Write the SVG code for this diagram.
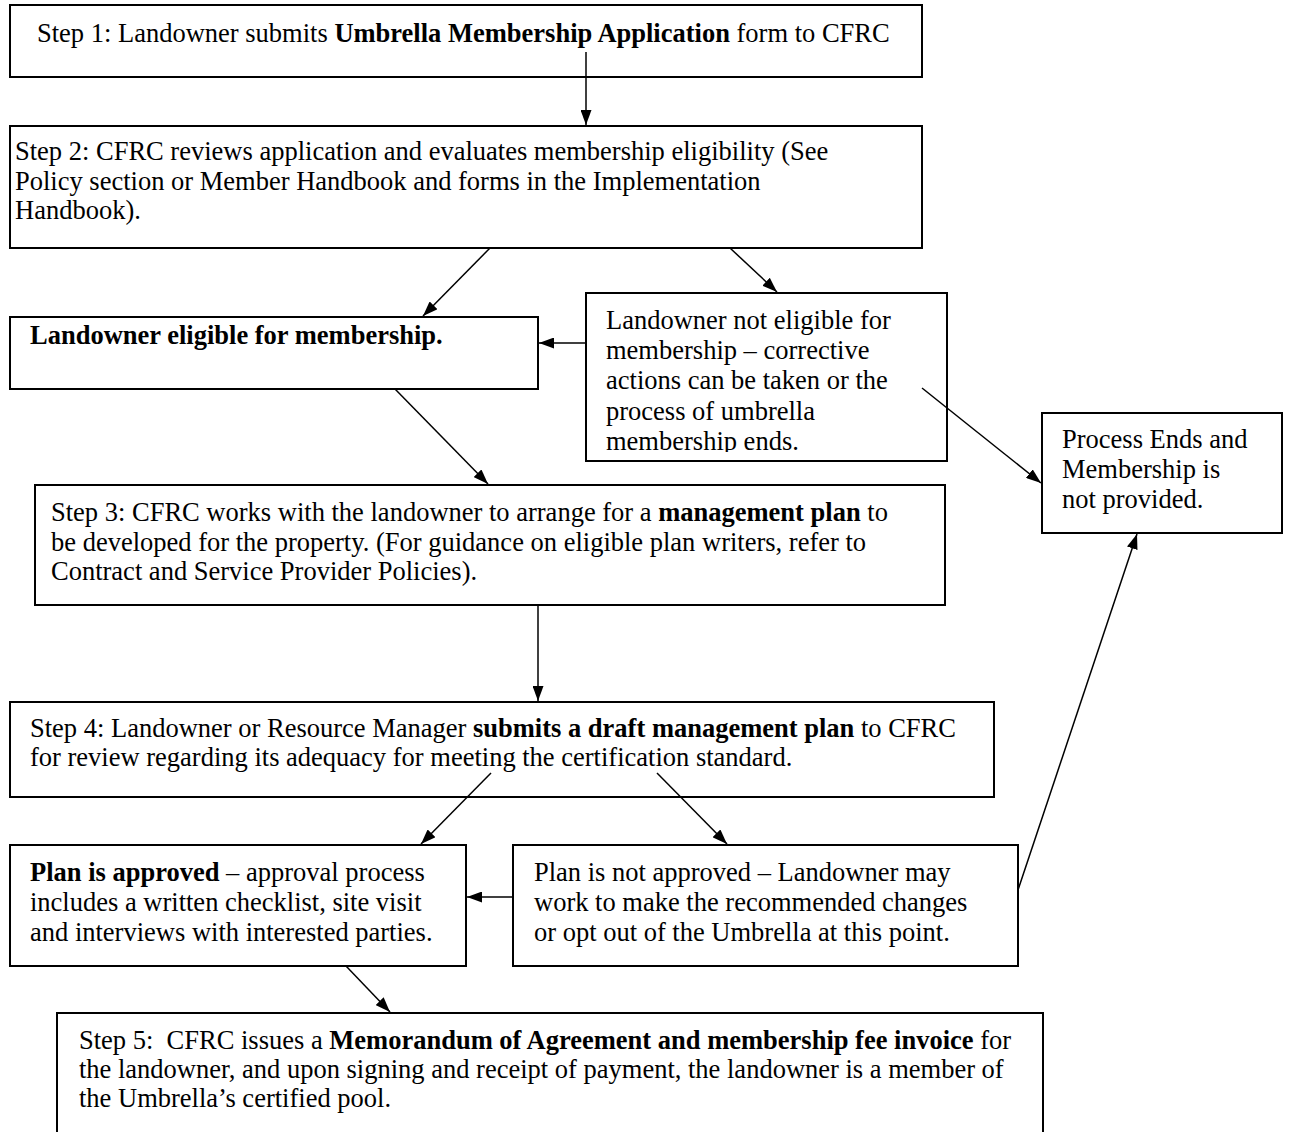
<svg xmlns="http://www.w3.org/2000/svg" width="1289" height="1132" viewBox="0 0 1289 1132">
<style>
  .box { fill: #ffffff; stroke: #000000; stroke-width: 2; }
  .t { font-family: "Liberation Serif", "Times New Roman", serif; font-size: 26.5px; fill: #000000; }
  .b { font-weight: bold; }
  .conn line { stroke: #000000; stroke-width: 1.5; marker-end: url(#ah); }
</style>
<defs>
  <marker id="ah" viewBox="0 0 15 11" refX="15" refY="5.5" markerWidth="15" markerHeight="11" markerUnits="userSpaceOnUse" orient="auto">
    <path d="M0,0 L15,5.5 L0,11 z" fill="#000000"/>
  </marker>
  <clipPath id="clipNE"><rect x="586" y="293" width="362" height="159"/></clipPath>
</defs>
<rect x="0" y="0" width="1289" height="1132" fill="#ffffff"/>

<g id="step1">
  <rect class="box" x="10" y="5" width="912" height="72"/>
  <text class="t" x="37" y="42">Step 1: Landowner submits <tspan class="b">Umbrella Membership Application</tspan> form to CFRC</text>
</g>

<g id="step2">
  <rect class="box" x="10" y="126" width="912" height="122"/>
  <text class="t">
    <tspan x="15" y="160">Step 2: CFRC reviews application and evaluates membership eligibility (See</tspan>
    <tspan x="15" y="190">Policy section or Member Handbook and forms in the Implementation</tspan>
    <tspan x="15" y="219">Handbook).</tspan>
  </text>
</g>

<g id="eligible">
  <rect class="box" x="10" y="317" width="528" height="72"/>
  <text class="t b" x="30" y="344">Landowner eligible for membership.</text>
</g>

<g id="not-eligible">
  <rect class="box" x="586" y="293" width="361" height="168"/>
  <g clip-path="url(#clipNE)">
    <text class="t">
      <tspan x="606" y="329">Landowner not eligible for</tspan>
      <tspan x="606" y="359.2">membership – corrective</tspan>
      <tspan x="606" y="389.4">actions can be taken or the</tspan>
      <tspan x="606" y="419.6">process of umbrella</tspan>
      <tspan x="606" y="449.8">membership ends.</tspan>
    </text>
  </g>
</g>

<g id="process-ends">
  <rect class="box" x="1042" y="413" width="240" height="120"/>
  <text class="t">
    <tspan x="1062" y="448">Process Ends and</tspan>
    <tspan x="1062" y="478">Membership is</tspan>
    <tspan x="1062" y="508">not provided.</tspan>
  </text>
</g>

<g id="step3">
  <rect class="box" x="35" y="485" width="910" height="120"/>
  <text class="t">
    <tspan x="51" y="521">Step 3: CFRC works with the landowner to arrange for a <tspan class="b">management plan</tspan> to</tspan>
    <tspan x="51" y="551">be developed for the property. (For guidance on eligible plan writers, refer to</tspan>
    <tspan x="51" y="580">Contract and Service Provider Policies).</tspan>
  </text>
</g>

<g id="step4">
  <rect class="box" x="10" y="702" width="984" height="95"/>
  <text class="t">
    <tspan x="30" y="737">Step 4: Landowner or Resource Manager <tspan class="b">submits a draft management plan</tspan> to CFRC</tspan>
    <tspan x="30" y="766">for review regarding its adequacy for meeting the certification standard.</tspan>
  </text>
</g>

<g id="plan-approved">
  <rect class="box" x="10" y="845" width="456" height="121"/>
  <text class="t">
    <tspan x="30" y="881"><tspan class="b">Plan is approved</tspan> – approval process</tspan>
    <tspan x="30" y="911">includes a written checklist, site visit</tspan>
    <tspan x="30" y="941">and interviews with interested parties.</tspan>
  </text>
</g>

<g id="plan-not-approved">
  <rect class="box" x="513" y="845" width="505" height="121"/>
  <text class="t">
    <tspan x="534" y="881">Plan is not approved – Landowner may</tspan>
    <tspan x="534" y="911">work to make the recommended changes</tspan>
    <tspan x="534" y="941">or opt out of the Umbrella at this point.</tspan>
  </text>
</g>

<g id="step5">
  <rect class="box" x="57" y="1013" width="986" height="140"/>
  <text class="t">
    <tspan x="79" y="1049">Step 5:&#160; CFRC issues a <tspan class="b">Memorandum of Agreement and membership fee invoice</tspan> for</tspan>
    <tspan x="79" y="1078">the landowner, and upon signing and receipt of payment, the landowner is a member of</tspan>
    <tspan x="79" y="1107">the Umbrella’s certified pool.</tspan>
  </text>
</g>

<g id="connectors" class="conn">
  <line x1="586" y1="52" x2="586" y2="125"/>
  <line x1="490" y1="248" x2="423" y2="316"/>
  <line x1="730" y1="248" x2="777" y2="292"/>
  <line x1="586" y1="343" x2="539" y2="343"/>
  <line x1="922" y1="388" x2="1041" y2="483"/>
  <line x1="395" y1="389" x2="488" y2="484"/>
  <line x1="538" y1="605" x2="538" y2="701"/>
  <line x1="491" y1="773" x2="421" y2="844"/>
  <line x1="657" y1="773" x2="727" y2="844"/>
  <line x1="513" y1="897" x2="467" y2="897"/>
  <line x1="1018" y1="890" x2="1137" y2="534"/>
  <line x1="346" y1="966" x2="390" y2="1012"/>
</g>
</svg>
